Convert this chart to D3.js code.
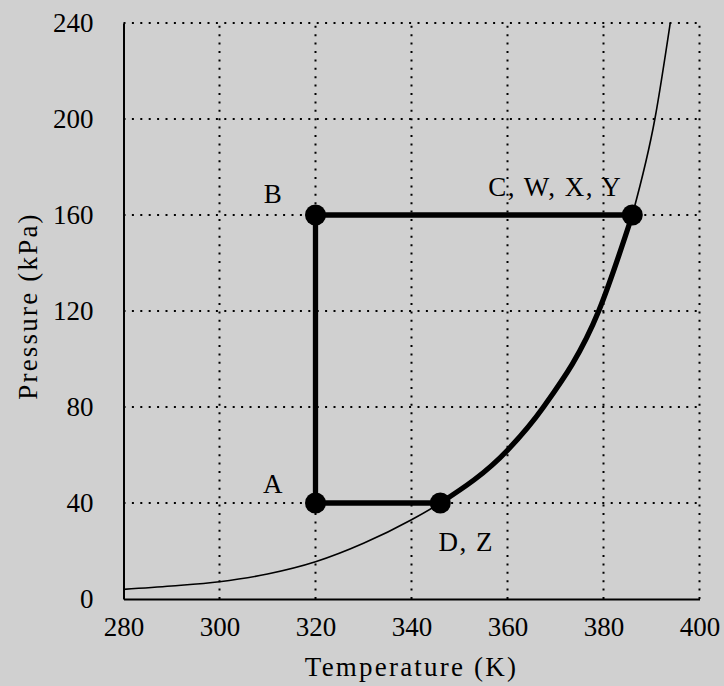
<!DOCTYPE html>
<html lang="en">
<head>
<meta charset="UTF-8">
<title>Pressure vs Temperature</title>
<script src="https://d3js.org/d3.v7.min.js"></script>
<style>
  html, body { margin: 0; padding: 0; background: #d0d0d0; }
</style>
</head>
<body>
<div id="chart"></div>
<script>

// ticks
var xTicks = [280, 300, 320, 340, 360, 380, 400]
var yTicks = [0, 40, 80, 120, 160, 200, 240]

// vapour pressure curve (K, kPa)
var curveT = [280, 290, 300, 310, 320, 330, 340, 346, 360, 367.5, 379, 386, 390.7, 393.9]
var curveP = [4, 5.4, 7.2, 10.4, 15.5, 23.2, 33, 40, 62, 80, 120, 160, 200, 240]

// cycle states
var stateNames = ["A", "B", "C, W, X, Y", "D, Z"]
var stateT = [320, 320, 386, 346]
var stateP = [40, 160, 160, 40]

var width = 724, height = 686
var margin = {left: 123.5, right: 24.5, top: 23, bottom: 87}
var font = '"Liberation Serif", "Times New Roman", serif'

var svg = d3.select("#chart").append("svg")
  .attr("width", width)
  .attr("height", height)

var x = d3.scaleLinear().domain([280, 400]).range([margin.left, width - margin.right])
var y = d3.scaleLinear().domain([0, 240]).range([height - margin.bottom, margin.top])

// dotted grid
svg.append("g").selectAll("line").data(xTicks.slice(1)).join("line")
  .attr("x1", d => x(d)).attr("x2", d => x(d))
  .attr("y1", y(0)).attr("y2", y(240))
  .attr("stroke", "#000").attr("stroke-width", 2)
  .attr("stroke-dasharray", "2,6.4")
svg.append("g").selectAll("line").data(yTicks.slice(1)).join("line")
  .attr("y1", d => y(d)).attr("y2", d => y(d))
  .attr("x1", x(280)).attr("x2", x(400))
  .attr("stroke", "#000").attr("stroke-width", 2)
  .attr("stroke-dasharray", "2,6.4")

// axes (left and bottom only, no tick marks)
var xAxis = svg.append("g").attr("transform", "translate(0," + y(0) + ")")
  .call(d3.axisBottom(x).tickValues(xTicks).tickSize(0).tickPadding(18))
var yAxis = svg.append("g").attr("transform", "translate(" + x(280) + ",0)")
  .call(d3.axisLeft(y).tickValues(yTicks).tickSize(0).tickPadding(30))
;[xAxis, yAxis].forEach(function(a) {
  a.attr("font-family", font).attr("font-size", 27)
  a.select(".domain").attr("stroke", "#000").attr("stroke-width", 2)
  a.selectAll("text").attr("fill", "#000")
})

var pts = curveT.map((t, i) => [t, curveP[i]])

// thin curve
var line = d3.line().x(d => x(d[0])).y(d => y(d[1])).curve(d3.curveMonotoneX)
svg.append("path").datum(pts)
  .attr("d", line).attr("fill", "none")
  .attr("stroke", "#000").attr("stroke-width", 1.6)

// thick part along curve from D to C
var thick = pts.filter(d => d[0] >= stateT[3] && d[0] <= stateT[2])
svg.append("path").datum(thick)
  .attr("d", line).attr("fill", "none")
  .attr("stroke", "#000").attr("stroke-width", 5.3)

// cycle A -> B -> C and D -> A
var straight = d3.line().x(d => x(d[0])).y(d => y(d[1]))
svg.append("path").datum([0, 1, 2].map(i => [stateT[i], stateP[i]]))
  .attr("d", straight)
  .attr("fill", "none").attr("stroke", "#000").attr("stroke-width", 5.3)
svg.append("path").datum([[stateT[3], stateP[3]], [stateT[0], stateP[0]]])
  .attr("d", straight)
  .attr("fill", "none").attr("stroke", "#000").attr("stroke-width", 5.3)

svg.append("g").selectAll("circle").data(stateT).join("circle")
  .attr("cx", d => x(d)).attr("cy", (d, i) => y(stateP[i]))
  .attr("r", 10.5).attr("fill", "#000")

// state labels (offsets from the point)
var labDx = [-42, -42, -10, 26]
var labDy = [-10, -12, -19, 48]
var labAnchor = ["middle", "middle", "end", "middle"]
svg.append("g").selectAll("text").data(stateNames).join("text")
  .attr("x", (d, i) => x(stateT[i]) + labDx[i])
  .attr("y", (d, i) => y(stateP[i]) + labDy[i])
  .attr("text-anchor", (d, i) => labAnchor[i])
  .attr("font-family", font)
  .attr("font-size", 27)
  .attr("letter-spacing", 1.5)
  .text(d => d)

// axis titles
svg.append("text")
  .attr("x", (x(280) + x(400)) / 2).attr("y", 676)
  .attr("font-family", font)
  .attr("text-anchor", "middle").attr("font-size", 27).attr("letter-spacing", 2.2)
  .text("Temperature (K)")
svg.append("text")
  .attr("transform", "translate(37," + 306 + ") rotate(-90)")
  .attr("font-family", font)
  .attr("text-anchor", "middle").attr("font-size", 27).attr("letter-spacing", 2.2)
  .text("Pressure (kPa)")

</script>
</body>
</html>
